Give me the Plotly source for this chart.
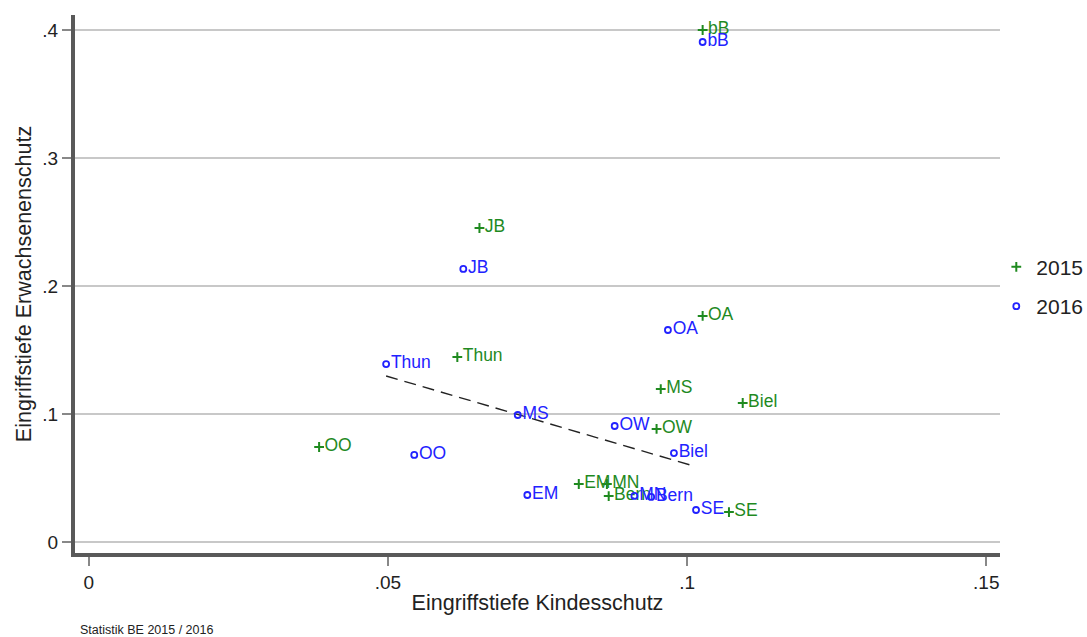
import plotly.graph_objects as go

regions = ["bB", "JB", "OA", "Thun", "MS", "Biel", "OW", "OO", "EM", "MN", "Bern", "SE"]

kids_2015 = [0.1026, 0.0653, 0.1026, 0.0616, 0.0956, 0.1093, 0.0949, 0.0385, 0.0819, 0.0866, 0.0869, 0.1070]
adult_2015 = [0.4000, 0.2453, 0.1766, 0.1445, 0.1195, 0.1086, 0.0883, 0.0742, 0.0453, 0.0453, 0.0359, 0.0234]

kids_2016 = [0.1026, 0.0626, 0.0968, 0.0497, 0.0717, 0.0978, 0.0879, 0.0544, 0.0733, 0.0912, 0.0940, 0.1015]
adult_2016 = [0.3906, 0.2133, 0.1656, 0.1390, 0.0992, 0.0695, 0.0906, 0.0680, 0.0367, 0.0360, 0.0352, 0.0250]

fit_x = [0.0497, 0.1005]
fit_y = [0.1297, 0.0602]

x_ticks = [0, 0.05, 0.1, 0.15]
x_ticktext = ["0", ".05", ".1", ".15"]
y_ticks = [0, 0.1, 0.2, 0.3, 0.4]
y_ticktext = ["0", ".1", ".2", ".3", ".4"]

GREEN = "#1f8a1f"
BLUE = "#2222ff"
FONT = "Liberation Sans, Arial, sans-serif"

fig = go.Figure()

fig.add_trace(go.Scatter(
    x=fit_x, y=fit_y, mode="lines",
    line=dict(color="#222222", width=1.4, dash="12px,7px"),
    showlegend=False, hoverinfo="skip"))

fig.add_trace(go.Scatter(
    x=kids_2015, y=adult_2015, mode="markers+text", name="2015",
    legendgroup="g2015",
    text=regions, textposition="middle right",
    textfont=dict(color=GREEN, size=17.5, family=FONT),
    marker=dict(symbol="cross-thin", size=7, color=GREEN,
                line=dict(color=GREEN, width=2))))

fig.add_trace(go.Scatter(
    x=kids_2016, y=adult_2016, mode="markers+text", name="2016",
    legendgroup="g2016",
    text=regions, textposition="middle right",
    textfont=dict(color=BLUE, size=17.5, family=FONT),
    marker=dict(symbol="circle-open", size=6, color=BLUE,
                line=dict(color=BLUE, width=1.8))))

fig.update_layout(
    width=1087, height=637,
    margin=dict(l=75, r=87, t=15, b=84, autoexpand=False),
    plot_bgcolor="white", paper_bgcolor="white",
    font=dict(family=FONT, color="#222222"),
    legend=dict(x=0.996, y=0.495, xanchor="left", yanchor="middle",
                font=dict(size=21, color="#222222"), traceorder="grouped",
                itemwidth=30, tracegroupgap=9, bgcolor="rgba(0,0,0,0)"),
    xaxis=dict(range=[-0.0023, 0.1523], tickvals=x_ticks, ticktext=x_ticktext,
               showgrid=False, zeroline=False,
               showline=True, linecolor="#595959", linewidth=4,
               ticks="outside", ticklen=9, tickwidth=1.5, tickcolor="#888888",
               tickfont=dict(size=19, color="#222222"),
               title=dict(text="Eingriffstiefe Kindesschutz", font=dict(size=21.5, color="#222222"), standoff=4)),
    yaxis=dict(range=[-0.0086, 0.4117], tickvals=y_ticks, ticktext=y_ticktext,
               showgrid=True, gridcolor="#c8c8c8", gridwidth=1.5, zeroline=False,
               showline=True, linecolor="#595959", linewidth=4,
               ticks="outside", ticklen=9, tickwidth=1.5, tickcolor="#888888",
               tickfont=dict(size=19, color="#222222"),
               title=dict(text="Eingriffstiefe Erwachsenenschutz", font=dict(size=21.5, color="#222222"), standoff=6)),
    annotations=[dict(text="Statistik BE 2015 / 2016", xref="paper", yref="paper",
                      x=0.003, y=-0.16, xanchor="left", yanchor="bottom", showarrow=False,
                      font=dict(size=12.5, color="#222222"))],
)

fig.write_html("out.html")
